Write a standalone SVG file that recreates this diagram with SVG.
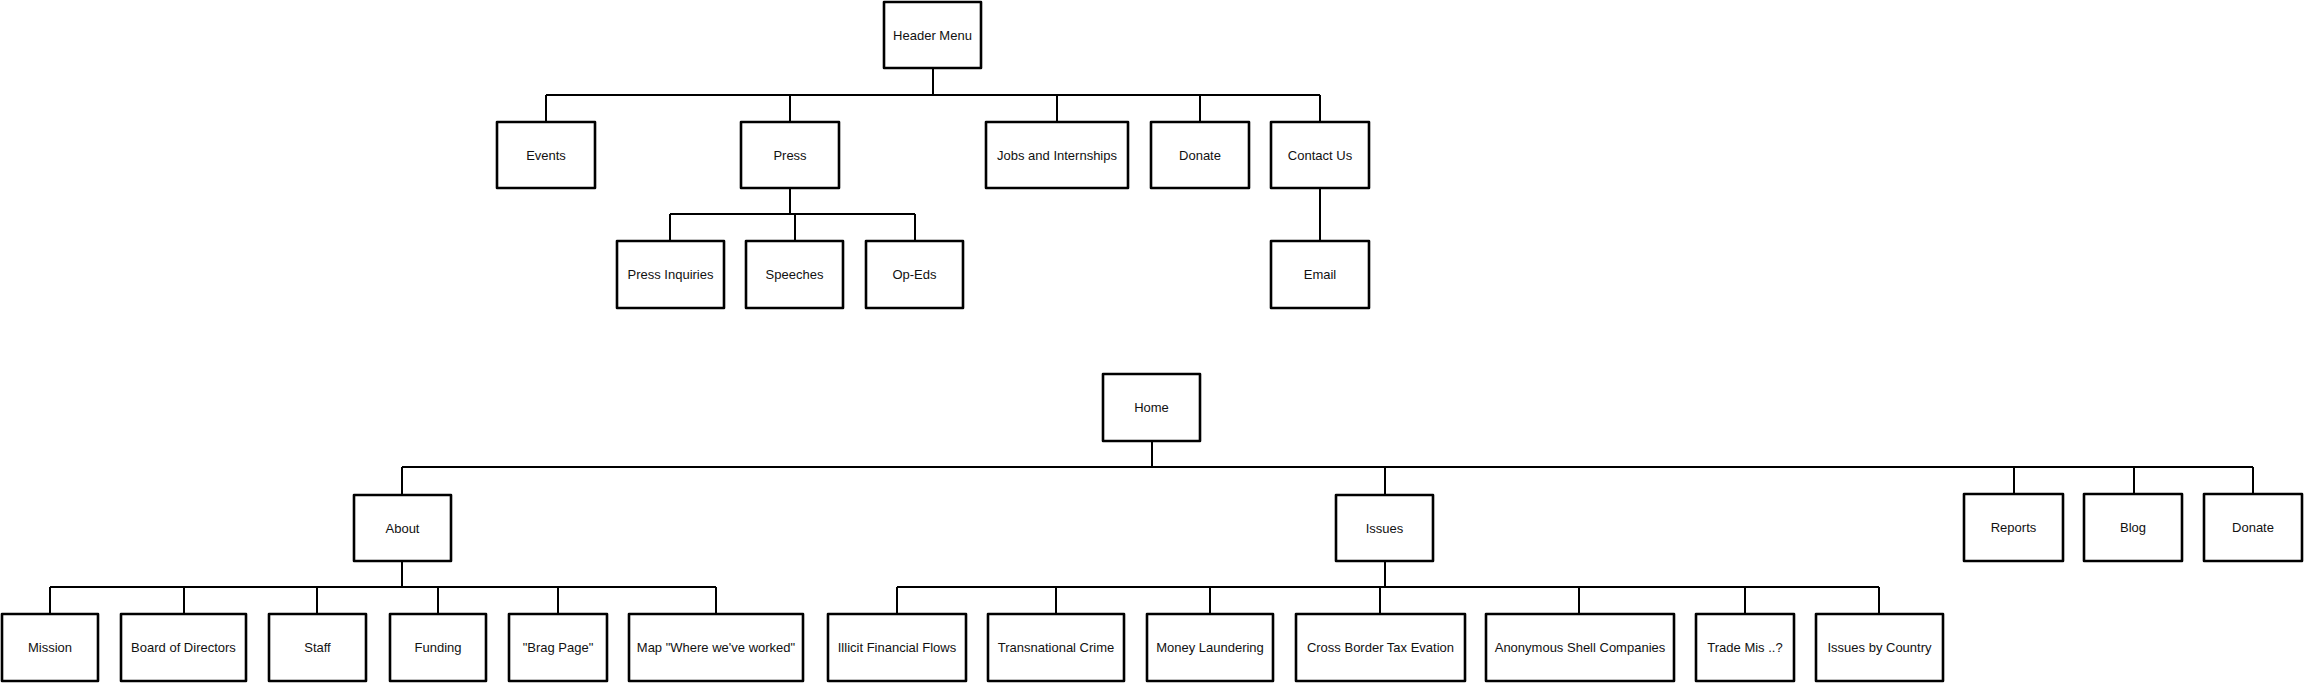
<svg xmlns="http://www.w3.org/2000/svg" width="2304" height="683" viewBox="0 0 2304 683">
<style>
.box{fill:#fff;stroke:#000;stroke-width:2.6;stroke-linejoin:round}
.lbl{font-family:"Liberation Sans",Arial,sans-serif;font-size:13px;fill:#111;text-anchor:middle;dominant-baseline:central}
.conn{fill:none;stroke:#000;stroke-width:2}
</style>
<rect width="2304" height="683" fill="#fff"/>
<g id="connectors" class="conn">
<path d="M933 68V95M546 95H1320M546 95V122M790 95V122M1057 95V122M1200 95V122M1320 95V122"/>
<path d="M790 188V214M670 214H915M670 214V241M795 214V241M915 214V241"/>
<path d="M1320 188V241"/>
<path d="M1152 441V467M402 467H2253M402 467V495M1385 467V495M2014 467V494M2134 467V494M2253 467V494"/>
<path d="M402 561V587M50 587H716M50 587V614M184 587V614M317 587V614M438 587V614M558 587V614M716 587V614"/>
<path d="M1385 561V587M897 587H1879M897 587V614M1056 587V614M1210 587V614M1380 587V614M1579 587V614M1745 587V614M1879 587V614"/>
</g>
<g id="header"><rect class="box" x="884" y="2" width="97" height="66"/><text class="lbl" x="932.5" y="35">Header Menu</text></g>
<g id="events"><rect class="box" x="497" y="122" width="98" height="66"/><text class="lbl" x="546" y="155">Events</text></g>
<g id="press"><rect class="box" x="741" y="122" width="98" height="66"/><text class="lbl" x="790" y="155">Press</text></g>
<g id="jobs"><rect class="box" x="986" y="122" width="142" height="66"/><text class="lbl" x="1057" y="155">Jobs and Internships</text></g>
<g id="donate-top"><rect class="box" x="1151" y="122" width="98" height="66"/><text class="lbl" x="1200" y="155">Donate</text></g>
<g id="contact"><rect class="box" x="1271" y="122" width="98" height="66"/><text class="lbl" x="1320" y="155">Contact Us</text></g>
<g id="press-inquiries"><rect class="box" x="617" y="241" width="107" height="67"/><text class="lbl" x="670.5" y="274.5">Press Inquiries</text></g>
<g id="speeches"><rect class="box" x="746" y="241" width="97" height="67"/><text class="lbl" x="794.5" y="274.5">Speeches</text></g>
<g id="opeds"><rect class="box" x="866" y="241" width="97" height="67"/><text class="lbl" x="914.5" y="274.5">Op-Eds</text></g>
<g id="email"><rect class="box" x="1271" y="241" width="98" height="67"/><text class="lbl" x="1320" y="274.5">Email</text></g>
<g id="home"><rect class="box" x="1103" y="374" width="97" height="67"/><text class="lbl" x="1151.5" y="407.5">Home</text></g>
<g id="about"><rect class="box" x="354" y="495" width="97" height="66"/><text class="lbl" x="402.5" y="528">About</text></g>
<g id="issues"><rect class="box" x="1336" y="495" width="97" height="66"/><text class="lbl" x="1384.5" y="528">Issues</text></g>
<g id="reports"><rect class="box" x="1964" y="494" width="99" height="67"/><text class="lbl" x="2013.5" y="527.5">Reports</text></g>
<g id="blog"><rect class="box" x="2084" y="494" width="98" height="67"/><text class="lbl" x="2133" y="527.5">Blog</text></g>
<g id="donate"><rect class="box" x="2204" y="494" width="98" height="67"/><text class="lbl" x="2253" y="527.5">Donate</text></g>
<g id="mission"><rect class="box" x="2" y="614" width="96" height="67"/><text class="lbl" x="50" y="647.5">Mission</text></g>
<g id="board"><rect class="box" x="121" y="614" width="125" height="67"/><text class="lbl" x="183.5" y="647.5">Board of Directors</text></g>
<g id="staff"><rect class="box" x="269" y="614" width="97" height="67"/><text class="lbl" x="317.5" y="647.5">Staff</text></g>
<g id="funding"><rect class="box" x="390" y="614" width="96" height="67"/><text class="lbl" x="438" y="647.5">Funding</text></g>
<g id="brag"><rect class="box" x="509" y="614" width="98" height="67"/><text class="lbl" x="558" y="647.5">"Brag Page"</text></g>
<g id="map"><rect class="box" x="629" y="614" width="174" height="67"/><text class="lbl" x="716" y="647.5">Map "Where we've worked"</text></g>
<g id="illicit"><rect class="box" x="828" y="614" width="138" height="67"/><text class="lbl" x="897" y="647.5">Illicit Financial Flows</text></g>
<g id="transnational"><rect class="box" x="988" y="614" width="136" height="67"/><text class="lbl" x="1056" y="647.5">Transnational Crime</text></g>
<g id="money"><rect class="box" x="1147" y="614" width="126" height="67"/><text class="lbl" x="1210" y="647.5">Money Laundering</text></g>
<g id="cross-border"><rect class="box" x="1296" y="614" width="169" height="67"/><text class="lbl" x="1380.5" y="647.5">Cross Border Tax Evation</text></g>
<g id="anonymous"><rect class="box" x="1486" y="614" width="188" height="67"/><text class="lbl" x="1580" y="647.5">Anonymous Shell Companies</text></g>
<g id="trade"><rect class="box" x="1696" y="614" width="98" height="67"/><text class="lbl" x="1745" y="647.5">Trade Mis ..?</text></g>
<g id="country"><rect class="box" x="1816" y="614" width="127" height="67"/><text class="lbl" x="1879.5" y="647.5">Issues by Country</text></g>
</svg>
